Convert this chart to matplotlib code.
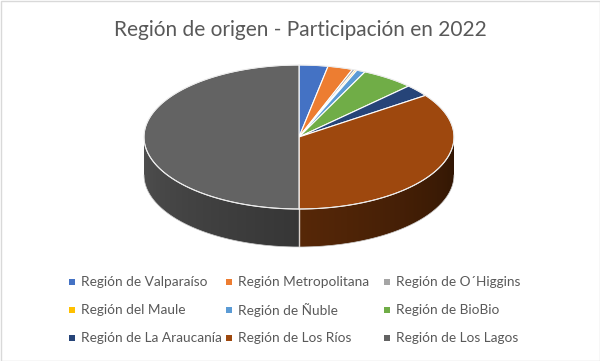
import numpy as np
import matplotlib
matplotlib.use("Agg")
import matplotlib.pyplot as plt
from matplotlib.patches import Polygon, Rectangle

# Data (share of total, %)
regions = [
    "Región de Valparaíso", "Región Metropolitana", "Región de O´Higgins",
    "Región del Maule", "Región de Ñuble", "Región de BioBio",
    "Región de La Araucanía", "Región de Los Ríos", "Región de Los Lagos",
]
shares = [3.0, 2.6, 0.3, 0.2, 0.9, 5.5, 2.7, 34.8, 50.0]
colors = ["#4472C4", "#ED7D31", "#A5A5A5", "#FFC000", "#5B9BD5",
          "#70AD47", "#264478", "#9E480E", "#636363"]
title = "Región de origen - Participación en 2022"

plt.rcParams["font.family"] = ["Lato", "DejaVu Sans"]

W, H = 600, 361
fig = plt.figure(figsize=(W / 100, H / 100), dpi=100)
ax = fig.add_axes([0, 0, 1, 1])
ax.axis("off")

# border of the chart area
ax.add_patch(Rectangle((0.5, 0.5), W - 1, H - 1, fill=False, ec="#d9d9d9", lw=1))

# 3D pie geometry
cx, cy, rx, ry, depth = 299, 137, 155, 72, 38


def pt(theta_deg):
    t = np.radians(theta_deg)
    return cx + rx * np.sin(t), cy - ry * np.cos(t)


bounds = np.concatenate([[0], np.cumsum(shares) / sum(shares) * 360])

# side walls (front half only: 90..270 deg clockwise from top), shaded by angle
xs = np.linspace(cx - rx, cx + rx, 400)
theta = 180 - np.degrees(np.arcsin(np.clip((xs - cx) / rx, -1, 1)))
fac = 0.3 + 0.5 * (theta - 90) / 180
for i, col in enumerate(colors):
    a0, a1 = max(bounds[i], 90), min(bounds[i + 1], 270)
    if a1 <= a0:
        continue
    rgb = np.array(matplotlib.colors.to_rgb(col))
    arc = np.linspace(a0, a1, 120)
    top = [pt(a) for a in arc]
    bot = [(x, y + depth) for x, y in top[::-1]]
    side = Polygon(top + bot, closed=True, fc="none", ec="none")
    ax.add_patch(side)
    img = np.clip(fac[None, :, None] * rgb[None, None, :], 0, 1)
    im = ax.imshow(img, extent=(cx - rx, cx + rx, cy + ry + depth + 2, cy - 2),
                   aspect="auto", interpolation="bilinear", zorder=2)
    im.set_clip_path(side)

# side boundaries and outline
for a in bounds:
    if 90 <= a <= 270:
        x0, y0 = pt(a)
        ax.plot([x0, x0], [y0, y0 + depth], color="white", lw=1, alpha=0.8, zorder=3)
arc = np.linspace(90, 270, 200)
ax.plot(*zip(*[(pt(a)[0], pt(a)[1] + depth) for a in arc]), color="#cfcfcf", lw=0.5, zorder=3)

# top wedges
for i, col in enumerate(colors):
    a = np.linspace(bounds[i], bounds[i + 1], max(3, int(bounds[i + 1] - bounds[i]) * 2))
    poly = [(cx, cy)] + [pt(v) for v in a]
    ax.add_patch(Polygon(poly, closed=True, fc=col, ec="white", lw=0.8,
                         joinstyle="round", zorder=4))
ring = np.linspace(0, 360, 400)
ax.plot(*zip(*[pt(v) for v in ring]), color="#e8e8e8", lw=0.6, zorder=5)

# title
ax.text(W / 2, 30, title, ha="center", va="center", fontsize=15, color="#595959")

# legend, filled row by row in three columns
col_x = [72, 229, 387]
row_y = [282, 310, 338]
for i, (lab, col) in enumerate(zip(regions, colors)):
    x, y = col_x[i % 3], row_y[i // 3]
    ax.add_patch(Rectangle((x - 3, y - 3), 6, 6, fc=col, ec="none"))
    ax.text(x + 9, y, lab, ha="left", va="center", fontsize=9.8, color="#595959")

ax.set_xlim(0, W)
ax.set_ylim(H, 0)
fig.savefig("out.png", dpi=100)
